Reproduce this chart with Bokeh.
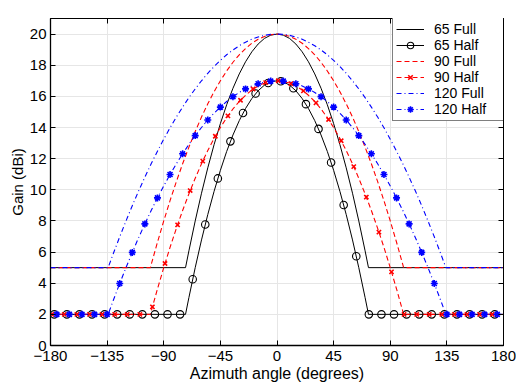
from bokeh.plotting import figure
from bokeh.models import Range1d, FixedTicker, LinearAxis, Legend, LegendItem
from bokeh.embed import file_html
from bokeh.resources import INLINE

# ---------------- data ----------------
x_ticks = [-180, -135, -90, -45, 0, 45, 90, 135, 180]
x_tick_labels = ["\u2212180", "\u2212135", "\u221290", "\u221245", "0", "45", "90", "135", "180"]
y_ticks = [0, 2, 4, 6, 8, 10, 12, 14, 16, 18, 20]

# one-sided line profiles (azimuth >= 0), patterns are symmetric about 0 deg
ang_65 = [0, 5, 10, 15, 20, 25, 30, 35, 40, 45, 50, 55, 60, 65, 70, 72.7, 180]
g65_full = [20, 19.93, 19.72, 19.36, 18.86, 18.22, 17.44, 16.52, 15.46, 14.25, 12.90, 11.41, 9.78, 8.00, 6.08, 5.0, 5.0]
g65_half = [17, 16.93, 16.72, 16.36, 15.86, 15.22, 14.44, 13.52, 12.46, 11.25, 9.90, 8.41, 6.78, 5.00, 3.08, 2.0, 2.0]

ang_90 = [0, 5, 10, 15, 20, 25, 30, 35, 40, 45, 50, 55, 60, 65, 70, 75, 80, 85, 90, 95, 100, 100.6, 180]
g90_full = [20, 19.96, 19.85, 19.67, 19.41, 19.07, 18.67, 18.19, 17.63, 17.00, 16.30, 15.52, 14.67, 13.74,
            12.74, 11.67, 10.52, 9.30, 8.00, 6.63, 5.19, 5.0, 5.0]
g90_half = [17, 16.96, 16.85, 16.67, 16.41, 16.07, 15.67, 15.19, 14.63, 14.00, 13.30, 12.52, 11.67, 10.74,
            9.74, 8.67, 7.52, 6.30, 5.00, 3.63, 2.19, 2.0, 2.0]

ang_120 = [0, 5, 10, 15, 20, 25, 30, 35, 40, 45, 50, 55, 60, 65, 70, 75, 80, 85, 90, 95, 100, 105, 110,
           115, 120, 125, 130, 134.2, 180]
g120_full = [20, 19.98, 19.92, 19.81, 19.67, 19.48, 19.25, 18.98, 18.67, 18.31, 17.92, 17.48, 17.00, 16.48,
             15.92, 15.31, 14.67, 13.98, 13.25, 12.48, 11.67, 10.81, 9.92, 8.98, 8.00, 6.98, 5.92, 5.0, 5.0]
g120_half = [17, 16.98, 16.92, 16.81, 16.67, 16.48, 16.25, 15.98, 15.67, 15.31, 14.92, 14.48, 14.00, 13.48,
             12.92, 12.31, 11.67, 10.98, 10.25, 9.48, 8.67, 7.81, 6.92, 5.98, 5.00, 3.98, 2.92, 2.0, 2.0]

# marker samples (every 10 deg)
m65_ang = list(range(-177, 174, 10))
m65_gain = [2] * 11 + [4.25, 7.77, 10.73, 13.11, 14.93, 16.18, 16.86, 16.97, 16.52, 15.50, 13.91, 11.75,
                       9.02, 5.73] + [2] * 11
m90_ang = list(range(-179, 172, 10))
m90_gain = [2] * 8 + [2.48, 5.27, 7.75, 9.95, 11.84, 13.44, 14.75, 15.75, 16.47, 16.88, 17.00, 16.82, 16.35,
                      15.58, 14.51, 13.15, 11.49, 9.53, 7.28, 4.73] + [2] * 8
m120_ang = list(range(-175, 176, 10))
m120_gain = [2] * 5 + [3.98, 5.98, 7.81, 9.48, 10.98, 12.31, 13.48, 14.48, 15.31, 15.98, 16.48, 16.81, 16.98,
                       16.98, 16.81, 16.48, 15.98, 15.31, 14.48, 13.48, 12.31, 10.98, 9.48, 7.81, 5.98,
                       3.98] + [2] * 5

legend_labels = ["65 Full", "65 Half", "90 Full", "90 Half", "120 Full", "120 Half"]
x_label = "Azimuth angle (degrees)"
y_label = "Gain (dBi)"


def mirror(ang, gain):
    xs = [-a for a in reversed(ang)] + list(ang[1:])
    ys = list(reversed(gain)) + list(gain[1:])
    return xs, ys


FONT = "Liberation Sans"
RED = "#ff0000"
BLUE = "#0000ff"

p = figure(width=516, height=387, output_backend="svg", toolbar_location=None,
           x_range=Range1d(-180, 180), y_range=Range1d(0, 21),
           min_border_left=50, min_border_right=13, min_border_top=18, min_border_bottom=42)
p.background_fill_color = "white"
p.border_fill_color = "white"
p.outline_line_color = "black"
p.outline_line_width = 1

for ax in (p.xaxis[0], p.yaxis[0]):
    ax.major_label_text_font = FONT
    ax.major_label_text_font_size = "15px"
    ax.major_label_text_color = "black"
    ax.axis_label_text_font = FONT
    ax.axis_label_text_font_size = "15px"
    ax.axis_label_text_font_style = "normal"
    ax.axis_label_text_color = "black"
    ax.major_tick_in = 5
    ax.major_tick_out = 0
    ax.minor_tick_line_color = None
    ax.axis_line_color = "black"
    ax.axis_line_width = 1.3
    ax.major_tick_line_color = "black"

p.xaxis[0].ticker = FixedTicker(ticks=x_ticks)
p.xaxis[0].major_label_overrides = {t: l for t, l in zip(x_ticks, x_tick_labels)}
p.xaxis[0].major_label_standoff = 5
p.xaxis[0].axis_label = x_label
p.xaxis[0].axis_label_text_font_size = "16px"
p.xaxis[0].axis_label_standoff = 1
p.yaxis[0].ticker = FixedTicker(ticks=y_ticks)
p.yaxis[0].axis_label = y_label
p.yaxis[0].major_label_standoff = 4
p.yaxis[0].axis_label_standoff = 1

for side, ticks in (("right", y_ticks), ("above", x_ticks)):
    a = LinearAxis(ticker=FixedTicker(ticks=ticks), major_tick_in=5, major_tick_out=0,
                   minor_tick_line_color=None, major_label_text_font_size="1px",
                   major_label_text_color=None, major_label_standoff=0,
                   axis_line_color="black", major_tick_line_color="black")
    p.add_layout(a, side)

p.grid.grid_line_color = "#e6e6e6"
p.grid.grid_line_width = 1
p.xgrid.ticker = FixedTicker(ticks=x_ticks)
p.ygrid.ticker = FixedTicker(ticks=y_ticks)

# lines first
x, y = mirror(ang_65, g65_full)
r65f = p.line(x, y, line_color="black", line_width=1)
x, y = mirror(ang_65, g65_half)
r65h = p.line(x, y, line_color="black", line_width=1)
x, y = mirror(ang_90, g90_full)
r90f = p.line(x, y, line_color=RED, line_width=1.1, line_dash="5 3")
x, y = mirror(ang_90, g90_half)
r90h = p.line(x, y, line_color=RED, line_width=1.1, line_dash="5 3")
x, y = mirror(ang_120, g120_full)
r120f = p.line(x, y, line_color=BLUE, line_width=1.1, line_dash="5 3 1 3")
x, y = mirror(ang_120, g120_half)
r120h = p.line(x, y, line_color=BLUE, line_width=1.1, line_dash="5 3 1 3")

# markers on top
s65 = p.scatter(m65_ang, m65_gain, marker="circle", size=7.5, fill_color=None, line_color="black", line_width=1.1)
s90 = p.scatter(m90_ang, m90_gain, marker="x", size=6, line_color=RED, line_width=1.6)
s120 = p.scatter(m120_ang, m120_gain, marker="asterisk", size=7, line_color=BLUE, line_width=1.6)

items = [
    LegendItem(label=legend_labels[0], renderers=[r65f]),
    LegendItem(label=legend_labels[1], renderers=[r65h, s65]),
    LegendItem(label=legend_labels[2], renderers=[r90f]),
    LegendItem(label=legend_labels[3], renderers=[r90h, s90]),
    LegendItem(label=legend_labels[4], renderers=[r120f]),
    LegendItem(label=legend_labels[5], renderers=[r120h, s120]),
]
# half-pixel offset so the 1 px legend sample lines fall on a single pixel row
legend = Legend(items=items, location=(342, 224.5), label_text_font=FONT, label_text_font_size="14px",
                label_text_color="black", glyph_width=28, glyph_height=16, label_height=16,
                label_width=66, spacing=0, padding=3, margin=0, label_standoff=10,
                border_line_color="black", border_line_width=1.3,
                background_fill_color="white", background_fill_alpha=1)
p.add_layout(legend)

open("out.html", "w").write(file_html(p, INLINE))
